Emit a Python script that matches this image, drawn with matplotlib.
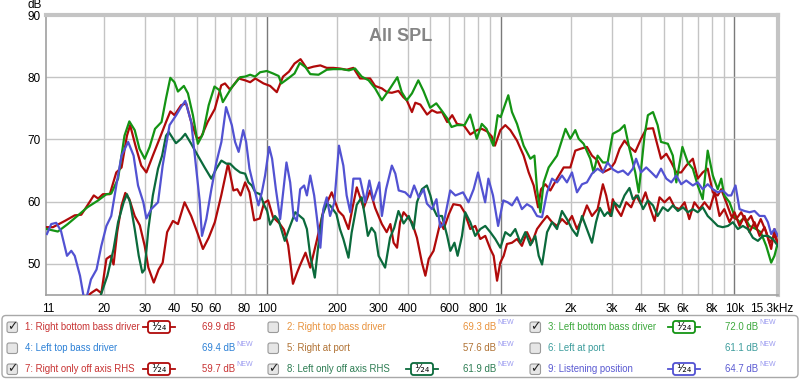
import matplotlib
matplotlib.use("Agg")
import matplotlib.pyplot as plt
from matplotlib.patches import FancyBboxPatch
import numpy as np

plt.rcParams['font.family'] = ['Liberation Sans', 'DejaVu Sans']

# traces: (Hz, dB)
right_bottom = [(11.4,55.9),(12.1,55.9),(13.6,56.9),(15.0,57.8),(16.0,57.9),(17.0,59.4),(18.1,61.0),(18.9,60.5),(19.8,61.2),(21.2,61.2),(22.6,64.7),(23.8,65.5),(25.1,70.6),(25.9,72.3),(27.3,69.0),(28.9,65.8),(30.4,64.7),(32.4,67.4),(34.6,70.1),(36.9,72.8),(38.5,74.5),(40.1,73.9),(42.8,75.5),(45.0,75.8),(47.3,72.8),(50.1,70.1),(52.2,70.4),(55.6,72.8),(59.7,74.9),(63.6,78.7),(66.0,79.0),(69.4,78.0),(75.5,79.8),(80.5,79.5),(84.6,79.2),(89.0,79.8),(96.5,79.0),(103,78.6),(110,77.6),(117,80.1),(124,80.9),(131,82.2),(139,82.9),(148,81.4),(158,81.7),(169,81.9),(180,81.5),(192,81.5),(205,81.4),(219,81.2),(234,81.5),(250,79.8),(276,79.8),(290,78.6),(310,78.2),(326,77.6),(342,77.5),(365,77.8),(383,76.8),(396,76.3),(417,74.4),(431,75.9),(453,75.6),(484,74.0),(508,74.7),(534,74.3),(561,74.4),(590,72.8),(620,73.9),(650,72.5),(694,72.3),(741,70.8),(792,71.5),(830,71.7),(874,71.3),(915,70.5),(945,69.0),(997,71.5),(1047,72.3),(1100,71.5),(1175,69.8),(1254,67.4),(1318,64.7),(1385,62.6),(1446,59.1),(1489,62.0),(1553,62.8),(1632,61.8),(1743,63.7),(1861,65.5),(1987,65.5),(2087,68.2),(2200,68.5),(2340,68.8),(2460,67.4),(2600,66.6),(2740,64.7),(2950,65.3),(3080,66.3),(3230,68.5),(3390,69.8),(3560,68.8),(3770,68.0),(3990,70.1),(4200,71.7),(4490,71.8),(4700,69.0),(4860,66.9),(5120,67.7),(5380,66.3),(5650,64.7),(5930,64.7),(6230,65.8),(6650,66.9),(6980,63.7),(7330,64.7),(7700,65.3),(8100,61.5),(8500,61.0),(8800,62.0),(9240,59.9),(9710,57.7),(10200,57.2),(10710,58.3),(11260,56.7),(11810,57.7),(12420,55.6),(12990,57.2),(13710,55.1),(14400,52.4),(14870,55.6),(15380,52.9)]

left_bottom = [(11.4,55.6),(12.7,55.2),(14.0,56.4),(15.5,57.8),(17.0,59.1),(18.9,60.2),(20.5,61.2),(21.5,61.3),(23.0,63.7),(24.5,70.6),(25.7,72.9),(27.1,71.5),(28.4,68.5),(29.9,66.9),(31.4,68.8),(33.1,71.7),(35.3,72.8),(36.9,76.6),(38.5,79.9),(40.1,79.2),(41.5,77.7),(44.0,78.6),(45.8,77.4),(48.1,73.9),(50.5,69.3),(53.1,70.9),(56.2,75.5),(59.5,78.5),(62.6,77.9),(64.6,76.0),(70.6,78.4),(76.6,80.0),(80.5,80.1),(84.6,80.4),(88.8,80.1),(93.3,80.8),(99.7,81.0),(106,80.6),(112,80.2),(115,79.0),(123,79.8),(131,80.6),(138,82.3),(146,81.6),(153,80.5),(166,80.4),(180,81.2),(192,81.3),(209,81.3),(224,81.1),(238,81.4),(254,80.1),(272,79.5),(290,78.2),(310,76.3),(336,78.2),(361,80.0),(377,77.6),(396,76.3),(417,77.4),(444,79.5),(467,77.8),(499,75.1),(530,75.8),(560,74.6),(590,73.4),(616,72.0),(650,72.3),(700,72.3),(740,74.0),(790,70.1),(830,72.5),(870,71.7),(930,69.0),(971,73.9),(1000,73.6),(1078,77.1),(1118,74.4),(1175,72.5),(1254,69.0),(1340,66.9),(1395,67.4),(1431,62.0),(1479,58.3),(1528,63.1),(1605,65.5),(1743,67.4),(1895,71.7),(1987,70.1),(2087,71.5),(2158,70.1),(2266,69.3),(2420,66.9),(2500,64.7),(2600,67.4),(2740,66.3),(2870,66.3),(3020,70.9),(3230,71.5),(3390,72.3),(3560,68.5),(3770,64.7),(3900,61.5),(4130,70.6),(4270,73.9),(4490,74.4),(4700,72.3),(4860,69.6),(5200,69.3),(5460,67.4),(5650,63.1),(6000,68.8),(6330,66.3),(6650,65.3),(6980,62.6),(7330,60.4),(7700,68.2),(8100,64.2),(8500,62.0),(8800,63.7),(9070,61.0),(9550,59.9),(10030,57.7),(10540,56.7),(11070,57.5),(11630,56.1),(12420,55.6),(12990,55.1),(13710,52.9),(14400,50.2),(14870,51.3),(15380,53.4)]

right_off_axis = [(16.2,44.0),(17.6,45.3),(18.6,45.9),(19.5,45.3),(20.5,50.8),(21.4,51.3),(22.0,49.9),(22.8,55.1),(23.8,59.4),(24.7,61.4),(25.7,60.4),(27.1,57.7),(28.5,56.2),(29.9,52.9),(31.0,49.4),(32.7,47.0),(34.3,49.1),(35.7,50.2),(37.3,55.1),(39.5,56.9),(41.5,56.4),(44.3,59.9),(47.3,57.7),(50.5,54.8),(53.1,52.4),(56.2,54.2),(59.7,56.7),(63.6,61.0),(68.0,66.1),(71.7,61.8),(74.5,62.0),(77.0,61.0),(80.5,63.1),(84,61.5),(88,57.0),(93,57.3),(97,59.8),(101,60.2),(106,57.5),(113,56.5),(118,55.5),(123,53.0),(129,46.8),(134,48.5),(138,49.7),(146,51.8),(153,49.4),(163,53.7),(174,58.5),(189,61.5),(202,58.5),(212,57.7),(223,55.6),(232,59.0),(242,62.3),(259,59.0),(276,61.8),(290,59.0),(310,56.4),(325,55.1),(337,56.4),(348,53.4),(360,52.6),(371,56.7),(384,58.3),(396,57.7),(417,56.7),(438,54.2),(460,50.2),(476,48.1),(492,50.8),(516,52.1),(552,56.7),(570,55.6),(600,58.0),(627,59.6),(672,59.4),(700,58.3),(741,55.6),(778,56.1),(818,54.0),(859,54.5),(903,52.4),(933,51.3),(965,47.3),(996,50.2),(1030,51.3),(1064,53.2),(1118,53.4),(1175,54.0),(1233,52.9),(1296,55.1),(1362,53.4),(1431,55.6),(1504,56.7),(1580,57.7),(1660,56.7),(1743,56.1),(1830,57.2),(1922,56.4),(2020,57.7),(2122,55.6),(2230,57.2),(2340,59.4),(2460,57.7),(2600,58.8),(2740,62.8),(2830,61.0),(2950,57.7),(3020,60.4),(3140,58.8),(3280,57.7),(3450,59.9),(3620,59.1),(3800,61.0),(3990,59.6),(4170,61.5),(4380,58.8),(4560,56.9),(4790,60.7),(5030,59.9),(5290,60.7),(5560,59.1),(5830,58.8),(6130,59.9),(6420,57.2),(6750,59.9),(7100,58.8),(7460,59.9),(7850,58.8),(8250,61.5),(8650,57.7),(9070,58.8),(9550,56.7),(10030,58.3),(10540,56.1),(11070,57.7),(11630,55.1),(12220,56.7),(12840,54.5),(13490,55.9),(14170,53.4),(14870,54.5),(15380,53.4)]

left_off_axis = [(19.0,44.0),(20.7,48.1),(22.0,52.4),(23.0,56.7),(24.3,59.9),(25.1,61.2),(25.9,59.9),(27.1,55.6),(28.2,51.3),(29.2,48.6),(29.9,49.1),(31.0,55.6),(32.4,61.0),(34.1,65.3),(35.5,67.4),(36.9,70.6),(37.9,71.2),(40.7,69.4),(42.8,70.1),(44.6,70.9),(47.3,69.3),(50.5,67.4),(54.0,65.5),(57.7,63.7),(60.6,65.3),(63.7,66.6),(67.0,66.1),(69.4,66.1),(72.9,65.3),(76.6,64.7),(80.5,64.5),(83.1,63.1),(86.0,62.6),(89,61.5),(93.4,61.2),(97,59.5),(100,58.5),(103,56.3),(108,57.7),(112,57.0),(119,53.7),(124,55.6),(132,58.3),(138,57.7),(143,57.2),(148,55.6),(153,51.3),(160,47.8),(165,52.4),(172,57.7),(180,59.6),(186,59.4),(191,58.8),(198,58.0),(205,55.6),(212,54.0),(223,51.0),(230,55.0),(242,59.5),(254,60.7),(262,57.7),(270,54.5),(280,55.8),(290,55.0),(300,51.3),(320,49.4),(336,54.2),(350,55.8),(365,58.5),(384,56.5),(404,57.7),(424,55.6),(438,59.9),(460,62.0),(483,62.6),(500,61.0),(517,58.8),(534,57.7),(561,57.7),(590,54.5),(609,52.1),(634,53.4),(654,51.3),(683,54.5),(705,58.3),(741,56.7),(778,54.5),(818,55.6),(859,56.1),(903,55.1),(948,54.0),(997,52.6),(1047,55.1),(1100,54.5),(1155,55.6),(1214,53.4),(1275,55.1),(1340,53.0),(1407,54.5),(1455,51.3),(1504,49.9),(1580,55.1),(1660,56.7),(1743,55.6),(1830,58.5),(1922,57.2),(2020,55.6),(2122,54.5),(2230,57.7),(2340,55.6),(2460,53.4),(2560,56.7),(2660,59.0),(2780,57.7),(2870,58.3),(2980,57.7),(3060,59.9),(3230,59.1),(3390,61.0),(3560,62.2),(3680,60.4),(3870,61.0),(4070,58.8),(4270,60.2),(4490,59.4),(4700,57.7),(4950,59.1),(5200,58.5),(5460,59.4),(5740,58.5),(6030,59.1),(6330,58.3),(6650,58.8),(6980,58.3),(7330,59.1),(7700,57.7),(8100,56.9),(8500,56.1),(8930,55.9),(9400,56.1),(9870,56.7),(10370,55.6),(10890,56.1),(11440,55.6),(12020,54.2),(12630,53.7),(13270,54.5),(13940,54.5),(14640,54.0),(15380,52.9)]

listening = [(11.4,54.8),(11.9,56.4),(12.5,56.6),(13.1,55.3),(13.9,51.3),(14.5,52.1),(15.0,51.3),(15.8,48.1),(16.6,43.5),(17.6,47.5),(18.6,49.1),(19.5,52.9),(20.5,56.1),(21.5,57.7),(22.6,62.6),(23.8,67.4),(25.4,69.6),(26.8,67.4),(28.0,62.6),(29.5,59.9),(30.4,57.3),(31.9,58.8),(34.1,59.9),(35.7,65.8),(38.2,72.3),(40.8,73.9),(42.8,75.2),(44.6,76.2),(47.3,72.8),(49.2,66.9),(51.4,60.2),(52.6,54.5),(54.9,57.2),(57.7,62.0),(60.6,66.3),(63.7,69.6),(66.7,75.2),(70.6,72.3),(72.9,69.6),(75.5,68.0),(79,71.5),(81.3,69.6),(84.0,65.3),(87.4,62.6),(91.8,59.4),(94.9,61.5),(98.0,64.2),(102,68.8),(105,66.9),(109,62.0),(113.7,57.2),(117.5,62.0),(121,66.3),(125.5,63.1),(129.7,57.7),(134,56.9),(138.5,62.0),(144,62.6),(148,61.0),(153,64.2),(159,61.0),(163,57.7),(169,52.6),(174,58.8),(180,60.7),(186,57.7),(194,59.9),(203,69.0),(212,65.8),(219,61.0),(227,58.3),(234,63.7),(250,63.7),(263,59.9),(274,63.4),(285,60.2),(302,63.1),(310,57.7),(323,62.0),(342,65.8),(354,64.5),(366,61.8),(390,61.5),(410,60.7),(426,62.6),(446,60.7),(468,62.0),(483,59.7),(508,58.8),(531,60.4),(551,55.9),(570,56.5),(608,61.8),(640,61.0),(690,61.5),(728,59.9),(766,62.0),(800,64.7),(858,59.9),(886,63.7),(927,61.0),(975,56.1),(1026,60.2),(1071,59.9),(1118,59.4),(1175,60.7),(1233,58.8),(1296,59.6),(1362,59.1),(1431,57.7),(1504,57.5),(1580,61.5),(1660,63.7),(1743,63.1),(1830,64.2),(1922,63.1),(2020,64.7),(2122,61.5),(2230,62.8),(2340,63.1),(2460,64.5),(2600,65.3),(2740,64.7),(2870,66.3),(3020,65.2),(3180,64.7),(3340,65.0),(3510,64.3),(3680,65.3),(3800,66.9),(3990,64.7),(4200,65.5),(4420,64.7),(4640,63.9),(4860,65.3),(5120,63.7),(5380,63.1),(5650,64.2),(5930,62.8),(6230,63.4),(6650,62.6),(6980,63.1),(7330,62.0),(7700,62.8),(8100,62.0),(8500,61.5),(8930,61.8),(9400,61.0),(9710,61.0),(10130,62.6),(10540,58.8),(11070,58.5),(11630,58.3),(12220,58.5),(12840,57.7),(13490,57.7),(13940,56.7),(14400,54.8),(14870,55.6),(15380,54.5)]

# legend panel contents (REW order 1..9)
legend_labels = ["1: Right bottom bass driver", "2: Right top bass driver", "3: Left bottom bass driver",
                 "4: Left top bass driver", "5: Right at port", "6: Left at port",
                 "7: Right only off axis RHS", "8: Left only off axis RHS", "9: Listening position"]
legend_values = ["69.9 dB", "69.3 dB", "72.0 dB", "69.4 dB", "57.6 dB", "61.1 dB", "59.7 dB", "61.9 dB", "64.7 dB"]
legend_new = [False, True, True, True, True, True, True, True, True]
legend_checked = [True, False, True, False, False, False, True, True, True]

tick_freqs = [11.5, 20, 30, 40, 50, 60, 80, 100, 200, 300, 400, 600, 800, 1000,
              2000, 3000, 4000, 5000, 6000, 8000, 10000, 14400]
tick_labels = ["11", "20", "30", "40", "50", "60", "80", "100", "200", "300", "400", "600", "800", "1k",
               "2k", "3k", "4k", "5k", "6k", "8k", "10k", "15.3kHz"]

trace_colors = {1: "#b00a0a", 3: "#149414", 7: "#b00a0a", 8: "#0b6a3c", 9: "#5252d2"}
text_colors = ["#c83232", "#e8923c", "#3ca83c", "#2c80d6", "#b07234", "#3c9c9c", "#c83232", "#2c7c52", "#5a5ad2"]

W, H = 800, 381
fig = plt.figure(figsize=(W / 100, H / 100), dpi=100)
ax = fig.add_axes([46 / W, 1 - 295 / H, 732 / W, 280 / H])
ax.set_xscale("log")
ax.set_xlim(11.3, 15400)
ax.set_ylim(45, 90)

# grid
for dec in [10, 100, 1000]:
    for m in range(2, 10):
        ax.axvline(dec * m, color="#c4c4c4", lw=1, zorder=1)
for f in [100, 1000, 10000]:
    ax.axvline(f, color="#7a7a7a", lw=1, zorder=1)
for y in [50, 60, 70, 80]:
    ax.axhline(y, color="#c4c4c4", lw=1, zorder=1)

for num, data in [(1, right_bottom), (3, left_bottom), (7, right_off_axis), (8, left_off_axis), (9, listening)]:
    arr = np.array(data)
    ax.plot(arr[:, 0], arr[:, 1], color=trace_colors[num], lw=1.6, zorder=3, solid_joinstyle="round")

ax.set_xticks(tick_freqs)
ax.set_xticklabels(tick_labels)
ax.xaxis.set_minor_locator(matplotlib.ticker.NullLocator())
ax.set_yticks([50, 60, 70, 80, 90])
ax.tick_params(length=0, labelsize=8.5, colors="#000000")
ax.tick_params(axis="x", pad=6)
ax.tick_params(axis="y", pad=4)

for side in ["left", "bottom"]:
    ax.spines[side].set_color("#a0a0a0")
    ax.spines[side].set_linewidth(1.2)
for side in ["top", "right"]:
    ax.spines[side].set_color("#c4c4c4")
    ax.spines[side].set_linewidth(3)

ax.text(0.485, 0.955, "All SPL", transform=ax.transAxes, ha="center", va="top",
        fontsize=13, fontweight="bold", color="#858585", zorder=5)

# overlay in pixel units for the legend panel
ov = fig.add_axes([0, 0, 1, 1])
ov.set_xlim(0, W)
ov.set_ylim(H, 0)
ov.axis("off")
ov.patch.set_alpha(0)

ov.text(35, 5, "dB", ha="center", va="center", fontsize=8.5)

ov.add_patch(FancyBboxPatch((2, 315.5), 796, 62, boxstyle="round,pad=0,rounding_size=4",
                            fc="white", ec="#a8a8a8", lw=1))

row_y = [327, 348, 369]
box_x = [7, 268, 530]
text_x = [25, 287, 548]
badge_x = [159, 422, 684]
value_x = [202, 463, 725]

for i, label in enumerate(legend_labels):
    r, c = divmod(i, 3)
    y = row_y[r]
    ov.add_patch(FancyBboxPatch((box_x[c], y - 5), 10.5, 10.5, boxstyle="round,pad=0,rounding_size=2",
                                fc="#e6e6e6", ec="#9a9a9a", lw=0.8))
    if legend_checked[i]:
        ov.text(box_x[c] + 5.5, y, "\u2713", ha="center", va="center", fontsize=9,
                fontweight="bold", color="#222222", family="DejaVu Sans")
    ov.text(text_x[c], y, label, ha="left", va="center", fontsize=6.9, color=text_colors[i])
    ov.text(value_x[c], y, legend_values[i], ha="left", va="center", fontsize=6.9, color=text_colors[i])
    if legend_new[i]:
        ov.text(value_x[c] + 34, y - 4, "NEW", ha="left", va="center", fontsize=5,
                color="#9a9af0")
    if legend_checked[i]:
        col = trace_colors[i + 1]
        bx = badge_x[c]
        ov.plot([bx - 16, bx + 16], [y, y], color=col, lw=1.3, zorder=2)
        ov.add_patch(FancyBboxPatch((bx - 11, y - 6), 22, 12, boxstyle="round,pad=0,rounding_size=2.5",
                                    fc="white", ec=col, lw=1.3, zorder=3))
        ov.text(bx, y, "\u00b9\u2044\u2082\u2084", ha="center", va="center", fontsize=8,
                color="#111111", zorder=4, family="DejaVu Sans")

fig.savefig("out.png", dpi=100)
